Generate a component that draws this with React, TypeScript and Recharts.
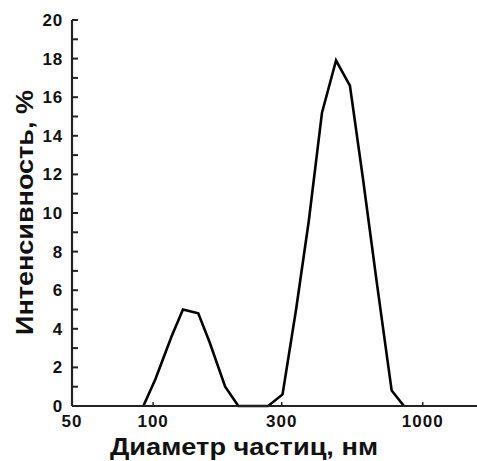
import React from "react";
import { LineChart, Line, XAxis, YAxis } from "recharts";

// particle diameter, nm (log axis) and intensity, %
const diameters = [92, 102, 117, 129, 147, 162, 185, 207, 267, 302, 339, 378, 423, 477, 537, 600, 677, 767, 852];
const intensity = [0, 1.4, 3.6, 5.0, 4.8, 3.3, 1.0, 0, 0, 0.6, 5.0, 9.6, 15.2, 17.9, 16.6, 11.8, 6.3, 0.8, 0];

const xTicks = [50, 100, 300, 1000];
const yTicks = [0, 1, 2, 3, 4, 5, 6, 7, 8, 9, 10, 11, 12, 13, 14, 15, 16, 17, 18, 19, 20];

const data = diameters.map((d, i) => ({ d, v: intensity[i] }));

const FONT = "'Liberation Sans', Arial, sans-serif";

const YTick = (props: any) => {
  const { x, y, payload } = props;
  const v = payload.value;
  return (
    <g>
      <line x1={x} x2={x + 6} y1={y} y2={y} stroke="#222" strokeWidth={2} />
      {v % 2 === 0 && (
        <text x={x - 9} y={y} dy={6} textAnchor="end" fontFamily={FONT} fontWeight="bold" fontSize={17} letterSpacing={0.8} fill="#111">
          {v}
        </text>
      )}
    </g>
  );
};

const XTick = (props: any) => {
  const { x, y, payload } = props;
  const v = payload.value;
  return (
    <g>
      {v !== 50 && <line x1={x} x2={x} y1={y} y2={y - 4} stroke="#222" strokeWidth={1.5} />}
      <text x={x} y={y + 21} textAnchor="middle" fontFamily={FONT} fontWeight="bold" fontSize={17} letterSpacing={1} fill="#111">
        {v}
      </text>
    </g>
  );
};

export default function App() {
  return (
    <div style={{ position: "absolute", left: 0, top: 0, width: 477, height: 461, background: "#fff" }}>
      <LineChart width={477} height={461} data={data} margin={{ top: 20, right: 0, left: 0, bottom: 0 }}>
        <XAxis
          xAxisId="top"
          orientation="top"
          type="number"
          scale="log"
          dataKey="d"
          domain={[50, 1590]}
          allowDataOverflow
          height={0}
          tick={false}
          tickLine={false}
          axisLine={{ stroke: "#222", strokeWidth: 2.2 }}
        />
        <XAxis
          type="number"
          scale="log"
          dataKey="d"
          domain={[50, 1590]}
          allowDataOverflow
          ticks={xTicks}
          interval={0}
          height={55}
          tickSize={0}
          tickMargin={0}
          tickLine={false}
          tick={<XTick />}
          axisLine={{ stroke: "#222", strokeWidth: 2.2 }}
          label={(p: any) => (
            <text
              x={110}
              y={455}
              textLength={268}
              lengthAdjust="spacingAndGlyphs"
              fontFamily={FONT}
              fontWeight="bold"
              fontSize={24}
              fill="#111"
            >
              Диаметр частиц, нм
            </text>
          )}
        />
        <YAxis
          type="number"
          domain={[0, 20]}
          ticks={yTicks}
          interval={0}
          width={72}
          tickSize={0}
          tickMargin={0}
          tickLine={false}
          tick={<YTick />}
          axisLine={{ stroke: "#222", strokeWidth: 2.2 }}
          label={(p: any) => (
            <text
              x={33}
              y={335}
              transform="rotate(-90 33 335)"
              textLength={245}
              lengthAdjust="spacingAndGlyphs"
              fontFamily={FONT}
              fontWeight="bold"
              fontSize={24}
              fill="#111"
            >
              Интенсивность, %
            </text>
          )}
        />
        <Line
          xAxisId={0}
          type="linear"
          dataKey="v"
          stroke="#000"
          strokeWidth={2.6}
          dot={false}
          isAnimationActive={false}
        />
      </LineChart>
    </div>
  );
}
